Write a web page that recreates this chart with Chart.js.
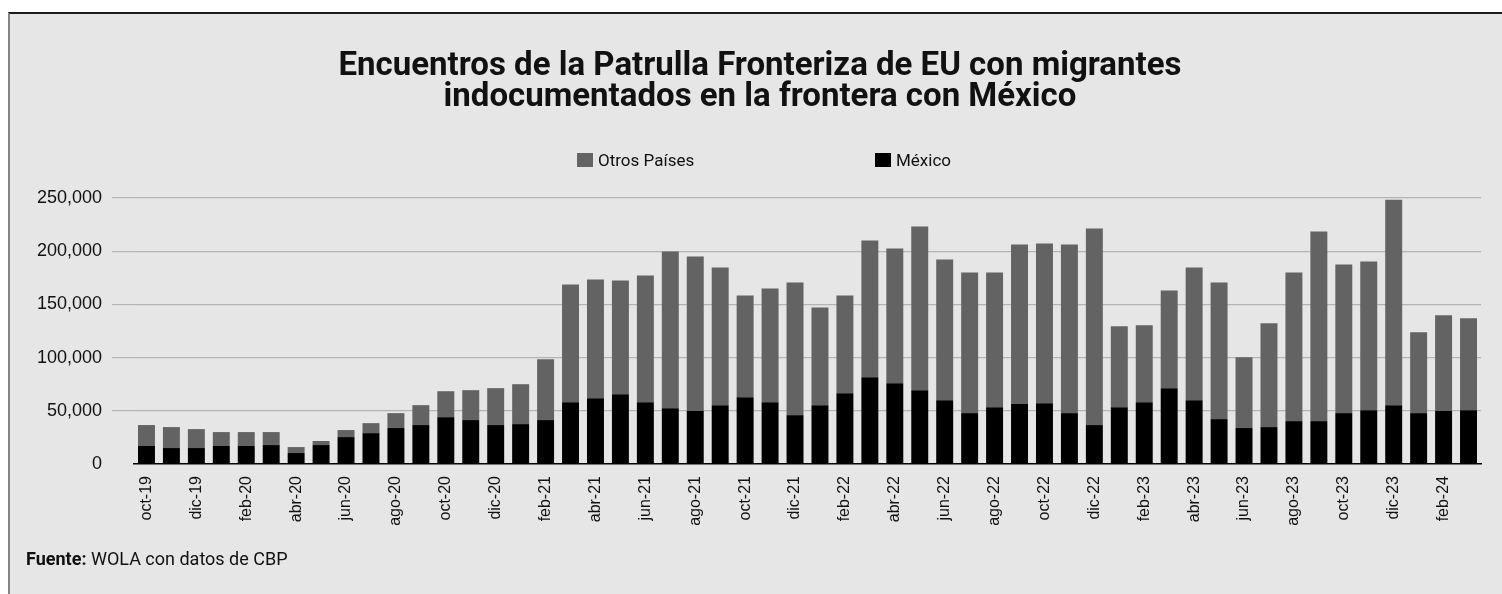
<!DOCTYPE html>
<html>
<head>
<meta charset="utf-8">
<script src="https://cdn.jsdelivr.net/npm/chart.js@4"></script>
<style>
    html, body { margin: 0; padding: 0; background: #fff; }
    body { width: 1502px; height: 594px; position: relative; overflow: hidden; }
    .frame {
        position: absolute; left: 8px; top: 12px; width: 1494px; height: 600px;
        background: #e6e6e6; border-top: 2px solid #1c1c1c; border-left: 2px solid #858585;
        box-sizing: border-box;
    }
    canvas { position: absolute; left: 0; top: 0; }
    .title {
        position: absolute; left: 0; top: 48px; width: 1520px; text-align: center;
        font: 700 33px Roboto, sans-serif; line-height: 31px; color: #111;
    }
    .legend {
        position: absolute; top: 150px; font: 400 17px Roboto, sans-serif; color: #111;
        display: flex; align-items: center;
    }
    .legend i { display: inline-block; width: 16px; height: 14px; margin-right: 5px; }
    .source { position: absolute; left: 26px; top: 548px; font: 400 18px Roboto, sans-serif; color: #111; }
</style>
</head>
<body>
<div class="frame"></div>
<canvas id="chart" width="1502" height="594"></canvas>
<div class="title">Encuentros de la Patrulla Fronteriza de EU con migrantes<br>indocumentados en la frontera con México</div>
<div class="legend" style="left:577px"><i style="background:#636363"></i>Otros Países</div>
<div class="legend" style="left:875px"><i style="background:#000"></i>México</div>
<div class="source"><b>Fuente:</b> WOLA con datos de CBP</div>
<script>
const months = [
    'oct-19', 'nov-19', 'dic-19',
    'ene-20', 'feb-20', 'mar-20', 'abr-20', 'may-20', 'jun-20', 'jul-20', 'ago-20', 'sep-20', 'oct-20', 'nov-20', 'dic-20',
    'ene-21', 'feb-21', 'mar-21', 'abr-21', 'may-21', 'jun-21', 'jul-21', 'ago-21', 'sep-21', 'oct-21', 'nov-21', 'dic-21',
    'ene-22', 'feb-22', 'mar-22', 'abr-22', 'may-22', 'jun-22', 'jul-22', 'ago-22', 'sep-22', 'oct-22', 'nov-22', 'dic-22',
    'ene-23', 'feb-23', 'mar-23', 'abr-23', 'may-23', 'jun-23', 'jul-23', 'ago-23', 'sep-23', 'oct-23', 'nov-23', 'dic-23',
    'ene-24', 'feb-24', 'mar-24'
]

const mexico = [
    16900, 15000, 15000,
    16900, 16900, 17800, 10300, 17800, 25300, 29000, 33800, 36600, 44000, 41300, 36600,
    37500, 41300, 58100, 61900, 65600, 58100, 52500, 49700, 55300, 62800, 58100, 45900,
    55300, 66600, 81600, 75900, 69400, 60000, 47800, 53400, 56300, 57200, 47800, 36600,
    53400, 58100, 71300, 60000, 42200, 33800, 34700, 40300, 40300, 47800, 50600, 55300,
    47800, 49700, 50600
]

const otros = [
    19700, 19700, 17800,
    13100, 13100, 12200, 5600, 3800, 6600, 9400, 14000, 18700, 24400, 28100, 34700,
    37500, 57100, 110700, 111500, 106900, 119100, 147200, 145300, 129400, 95600, 106900, 124700,
    91900, 91800, 128400, 126600, 153700, 132200, 132200, 126600, 150000, 150000, 158500, 184700,
    76000, 72200, 91800, 124700, 128400, 66500, 97500, 139700, 178100, 139700, 139700, 193100,
    76000, 90000, 86300
]

const yTicks = [0, 50000, 100000, 150000, 200000, 250000]

const canvas = document.getElementById('chart')

function formatNumber(v) {
    return v.toLocaleString('en-US')
}

new Chart(canvas, {
    type: 'bar',
    data: {
        labels: months,
        datasets: [
            { label: 'México', data: mexico, backgroundColor: '#000000' },
            { label: 'Otros Países', data: otros, backgroundColor: '#636363' }
        ]
    },
    options: {
        responsive: false,
        animation: false,
        barPercentage: 0.68,
        categoryPercentage: 1,
        layout: { padding: { top: 198, right: 21, bottom: 0, left: 0 } },
        plugins: {
            legend: { display: false },
            tooltip: { enabled: false }
        },
        scales: {
            x: {
                stacked: true,
                afterFit: scale => { scale.height = 130 },
                grid: { display: false, drawTicks: false },
                border: { display: true, color: '#000', width: 1.5 },
                ticks: {
                    autoSkip: false,
                    minRotation: 90,
                    maxRotation: 90,
                    padding: 12,
                    color: '#111',
                    font: { family: 'Liberation Sans', size: 16 },
                    callback: (v, i) => i % 2 === 0 ? months[i] : ''
                }
            },
            y: {
                stacked: true,
                min: yTicks[0],
                max: yTicks[yTicks.length - 1],
                afterFit: scale => { scale.width = 134 },
                afterBuildTicks: scale => { scale.ticks = yTicks.map(v => ({ value: v })) },
                border: { display: false },
                grid: {
                    color: ctx => ctx.tick && ctx.tick.value === 0 ? 'rgba(0,0,0,0)' : '#b4b4b4',
                    lineWidth: 1.2,
                    tickLength: 22
                },
                ticks: {
                    padding: 10,
                    color: '#111',
                    font: { family: 'Liberation Sans', size: 18 },
                    callback: v => formatNumber(v)
                }
            }
        }
    }
})
</script>
</body>
</html>
